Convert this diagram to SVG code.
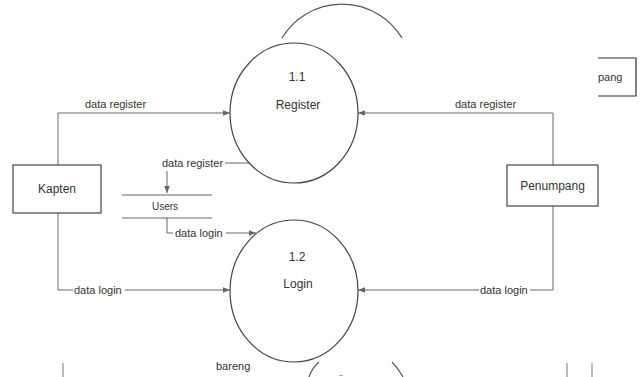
<svg xmlns="http://www.w3.org/2000/svg" width="643" height="377" viewBox="0 0 643 377">
<defs>
<style>
text{font-family:"Liberation Sans",Arial,sans-serif;fill:#333}
.lbl{font-size:11px}
.nd{font-size:12px}
.ln{fill:none;stroke:#666;stroke-width:1}
.sh{fill:#fff;stroke:#444;stroke-width:1.2}
.arc{fill:none;stroke:#555;stroke-width:1.2}
.bg{fill:#fff}
</style>
<marker id="ah" viewBox="0 0 10 10" refX="10" refY="5" markerWidth="7" markerHeight="7" orient="auto" markerUnits="userSpaceOnUse">
<path d="M0,1 L10,5 L0,9 Z" fill="#666"/>
</marker>
</defs>
<rect width="643" height="377" fill="#fff"/>
<g id="fragments">
<path class="arc" d="M282,38 A70,70 0 0 1 402,38"/>
<path class="arc" d="M309,377 Q312,368 319,362"/>
<path class="arc" d="M392,362 Q398,368 403,377"/>
<line x1="339" y1="375.5" x2="343" y2="375.5" stroke="#aaa" stroke-width="1"/>
<path d="M598,58 H636 V96 H598" fill="none" stroke="#333" stroke-width="1.2"/>
<text class="lbl" x="598" y="81">pang</text>
<text class="lbl" x="216" y="370">bareng</text>
<line x1="63" y1="363" x2="63" y2="377" stroke="#777"/>
<line x1="567" y1="363" x2="567" y2="377" stroke="#777"/>
<line x1="592" y1="363" x2="592" y2="377" stroke="#777"/>
</g>
<g id="connectors">
<path class="ln" d="M58,165 V113 H230" marker-end="url(#ah)"/>
<text class="lbl" x="85" y="108">data register</text>
<path class="ln" d="M553,165 V113 H358" marker-end="url(#ah)"/>
<text class="lbl" x="455" y="108">data register</text>
<path class="ln" d="M58,213 V290 H230" marker-end="url(#ah)"/>
<rect class="bg" x="73" y="283" width="52" height="14"/>
<text class="lbl" x="74" y="294">data login</text>
<path class="ln" d="M553,205 V290 H358" marker-end="url(#ah)"/>
<rect class="bg" x="479" y="283" width="51" height="14"/>
<text class="lbl" x="480" y="294">data login</text>
<path class="ln" d="M225,163 H249"/>
<text class="lbl" x="162" y="167">data register</text>
<path class="ln" d="M167,171 V193" marker-end="url(#ah)"/>
<path class="ln" d="M167,218 V233 H173"/>
<path class="ln" d="M226,233 H256" marker-end="url(#ah)"/>
<text class="lbl" x="175" y="237">data login</text>
</g>
<g id="kapten">
<rect class="sh" x="13" y="165" width="88" height="48"/>
<text class="nd" x="57" y="193" text-anchor="middle">Kapten</text>
</g>
<g id="penumpang">
<rect class="sh" x="507" y="165" width="91" height="41"/>
<text class="nd" x="552.5" y="190" text-anchor="middle">Penumpang</text>
</g>
<g id="register">
<ellipse class="sh" cx="294" cy="113" rx="64" ry="70"/>
<text class="nd" x="297" y="81" text-anchor="middle">1.1</text>
<text class="nd" x="298" y="109" text-anchor="middle">Register</text>
</g>
<g id="login">
<ellipse class="sh" cx="294" cy="291" rx="64" ry="71"/>
<text class="nd" x="297" y="261" text-anchor="middle">1.2</text>
<text class="nd" x="298" y="288" text-anchor="middle">Login</text>
</g>
<g id="users">
<line class="ln" x1="122" y1="195" x2="212" y2="195"/>
<line class="ln" x1="122" y1="218" x2="212" y2="218"/>
<text x="165" y="210" font-size="10" text-anchor="middle">Users</text>
</g>
</svg>
